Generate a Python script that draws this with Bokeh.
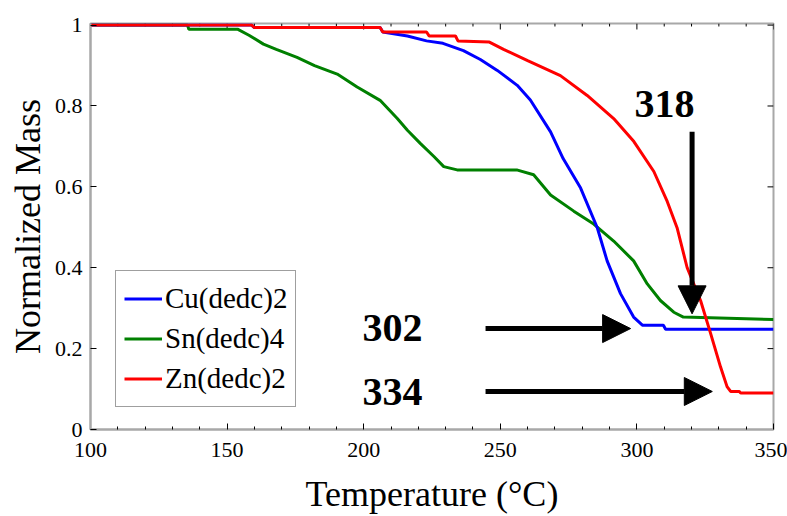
from bokeh.plotting import figure
from bokeh.models import (Range1d, FixedTicker, Legend, LegendItem,
                          Arrow, NormalHead, ColumnDataSource, NumeralTickFormatter)
from bokeh.core.properties import value
from bokeh.embed import file_html
from bokeh.resources import INLINE

# ---------------- data ----------------
cu_temp = [100, 159, 160, 206, 207, 216, 223, 229, 236.5, 242.7, 248.9, 256.2, 261, 268.4, 273,
           279.4, 285.5, 289.1, 294, 298.8, 302, 309.7, 310.5, 350]
cu_mass = [1.0, 1.0, 0.994, 0.994, 0.983, 0.973, 0.961, 0.955, 0.937, 0.915, 0.888, 0.851, 0.815,
           0.736, 0.67, 0.597, 0.499, 0.417, 0.336, 0.278, 0.258, 0.258, 0.248, 0.248]

sn_temp = [100, 135.5, 136, 153.8, 158, 163.3, 168, 175.6, 182, 190.3, 197.6, 206, 212.3, 216,
           220.8, 225.7, 229.3, 234.2, 256, 262.2, 268.4, 276.9, 284.2, 291.5, 298.8, 303.8,
           308.6, 313.5, 317, 350]
sn_mass = [1.0, 1.0, 0.99, 0.99, 0.975, 0.953, 0.94, 0.92, 0.9, 0.879, 0.847, 0.814, 0.769, 0.74,
           0.707, 0.675, 0.65, 0.642, 0.642, 0.63, 0.58, 0.54, 0.508, 0.466, 0.417, 0.36,
           0.319, 0.29, 0.278, 0.272]

zn_temp = [100, 159, 160, 206, 207, 223, 224, 233.6, 234.5, 246, 251.2, 260, 272, 281.8, 291.5,
           298.9, 306.2, 311.1, 314.7, 318.4, 323.3, 327, 330.6, 333, 334.3, 337.5, 338, 350]
zn_mass = [1.0, 1.0, 0.994, 0.994, 0.983, 0.983, 0.973, 0.973, 0.961, 0.958, 0.94, 0.912, 0.875,
           0.826, 0.769, 0.712, 0.638, 0.564, 0.499, 0.40, 0.319, 0.237, 0.155, 0.106, 0.094,
           0.094, 0.09, 0.09]

series_names = ["Cu(dedc)2", "Sn(dedc)4", "Zn(dedc)2"]

x_ticks = [100, 150, 200, 250, 300, 350]
x_minor_ticks = [110, 120, 130, 140, 160, 170, 180, 190, 210, 220, 230, 240,
                 260, 270, 280, 290, 310, 320, 330, 340]
y_ticks = [0, 0.2, 0.4, 0.6, 0.8, 1.0]

# annotations: labels and arrows (data coordinates)
note_text = ["302", "334", "318"]
note_x = [210.5, 210.5, 310.1]
note_y = [0.25, 0.093, 0.805]

arrow_x0 = [244.6, 244.6, 320.2]
arrow_y0 = [0.2496, 0.094, 0.736]
arrow_x1 = [297.7, 327.6, 320.2]
arrow_y1 = [0.2496, 0.094, 0.286]

# ---------------- figure ----------------
SERIF = "Liberation Serif"
FRAME = "#a8a8a8"
X0, X1 = 100, 350
Y0, Y1 = 0, 1.004

p = figure(width=787, height=516, x_range=Range1d(X0, X1), y_range=Range1d(Y0, Y1),
           output_backend="svg", toolbar_location=None,
           min_border_left=90, min_border_top=23, min_border_right=14, min_border_bottom=86)
p.xgrid.visible = False
p.ygrid.visible = False
p.outline_line_color = FRAME
p.outline_line_width = 2
p.background_fill_color = "white"
p.border_fill_color = "white"


def style_axis(ax):
    ax.axis_line_color = FRAME
    ax.axis_line_width = 2
    ax.major_tick_in = 6
    ax.major_tick_out = 0
    ax.minor_tick_in = 3
    ax.minor_tick_out = 0
    ax.major_tick_line_color = "black"
    ax.minor_tick_line_color = "black"
    ax.major_tick_line_width = 1
    ax.minor_tick_line_width = 1
    ax.major_label_text_font = SERIF
    ax.major_label_text_font_size = "22px"
    ax.major_label_text_color = "black"
    ax.major_label_standoff = 8
    ax.axis_label_text_font = SERIF
    ax.axis_label_text_font_size = "36px"
    ax.axis_label_text_font_style = "normal"
    ax.axis_label_text_color = "black"
    ax.axis_label_standoff = 4


xa = p.xaxis[0]
xa.ticker = FixedTicker(ticks=x_ticks, minor_ticks=x_minor_ticks)
xa.axis_label = "Temperature (°C)"
style_axis(xa)
xa.major_label_standoff = 13
xa.axis_label_standoff = 14

ya = p.yaxis[0]
ya.ticker = FixedTicker(ticks=y_ticks, minor_ticks=[])
ya.formatter = NumeralTickFormatter(format="0.[0]")
ya.axis_label = "Normalized Mass"
style_axis(ya)

# inward ticks on the top and right edges of the frame
px_x = (X1 - X0) / 683.0
px_y = (Y1 - Y0) / 407.5
top_x = x_ticks + x_minor_ticks
top_len = [6 * px_y] * len(x_ticks) + [3 * px_y] * len(x_minor_ticks)
p.segment(x0=top_x, y0=[Y1] * len(top_x), x1=top_x, y1=[Y1 - l for l in top_len],
          line_color="black", line_width=1)
p.segment(x0=[X1] * len(y_ticks), y0=y_ticks, x1=[X1 - 6 * px_x] * len(y_ticks), y1=y_ticks,
          line_color="black", line_width=1)

# ---------------- curves ----------------
r_sn = p.line(sn_temp, sn_mass, line_color="#008000", line_width=3)
r_cu = p.line(cu_temp, cu_mass, line_color="#0000ff", line_width=3)
r_zn = p.line(zn_temp, zn_mass, line_color="#ff0000", line_width=3)

legend = Legend(items=[LegendItem(label=series_names[0], renderers=[r_cu]),
                       LegendItem(label=series_names[1], renderers=[r_sn]),
                       LegendItem(label=series_names[2], renderers=[r_zn])],
                location=(25, 22))
legend.label_text_font = SERIF
legend.label_text_font_size = "29px"
legend.label_text_color = "black"
legend.glyph_width = 38
legend.glyph_height = 39
legend.label_height = 39
legend.label_standoff = 3
legend.spacing = 1
legend.padding = 8
legend.margin = 0
legend.border_line_color = "#404040"
legend.border_line_width = 1.5
legend.background_fill_color = "white"
legend.background_fill_alpha = 1
p.add_layout(legend, "center")

# ---------------- annotations ----------------
for i in range(len(arrow_x0)):
    p.add_layout(Arrow(end=NormalHead(size=28, fill_color="black", line_color="black", line_width=1),
                       x_start=arrow_x0[i], y_start=arrow_y0[i],
                       x_end=arrow_x1[i], y_end=arrow_y1[i],
                       line_color="black", line_width=5))

src = ColumnDataSource(dict(x=note_x, y=note_y, t=note_text))
p.text(x="x", y="y", text="t", source=src, text_font=value(SERIF), text_font_style="bold",
       text_font_size="40px", text_align="center", text_baseline="middle", text_color="black")

open("out.html", "w").write(file_html(p, INLINE))
